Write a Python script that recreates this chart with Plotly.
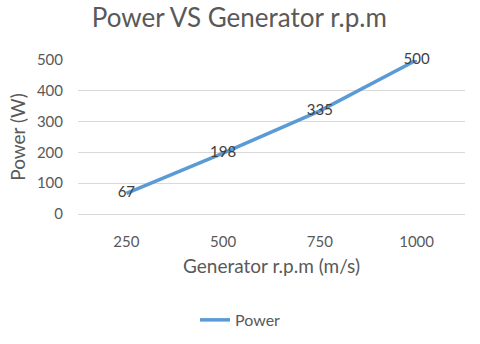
import plotly.graph_objects as go

rpm = ["250", "500", "750", "1000"]
power = [67, 198, 335, 500]

grey = "#595959"
font = "Lato, 'Open Sans', sans-serif"

fig = go.Figure()
fig.add_trace(
    go.Scatter(
        x=rpm,
        y=power,
        mode="lines+text",
        name="Power",
        text=[str(v) for v in power],
        textposition="middle center",
        textfont=dict(size=15, color="#404040", family=font),
        line=dict(color="#5B9BD5", width=3.5),
        cliponaxis=False,
    )
)

fig.update_layout(
    width=480,
    height=344,
    paper_bgcolor="white",
    plot_bgcolor="white",
    margin=dict(l=78, r=15, t=60, b=130, autoexpand=False),
    font=dict(family=font, color=grey, size=15),
    title=dict(
        text="Power VS Generator r.p.m",
        font=dict(size=26, color=grey, family=font),
        x=0.4985,
        xanchor="center",
        y=0.948,
        yanchor="middle",
    ),
    showlegend=True,
    legend=dict(
        orientation="h",
        x=0.42,
        xanchor="center",
        y=-0.688,
        yanchor="middle",
        font=dict(size=16, color=grey),
    ),
)

fig.update_xaxes(
    type="category",
    range=[-0.5, 3.5],
    automargin=False,
    showgrid=False,
    showline=True,
    linecolor="#d9d9d9",
    linewidth=1,
    ticks="",
    ticklabelstandoff=14,
    tickfont=dict(size=15, color=grey),
    title=dict(text="Generator r.p.m (m/s)", font=dict(size=19, color=grey), standoff=10),
)

fig.update_yaxes(
    range=[0, 500],
    dtick=100,
    automargin=False,
    showgrid=True,
    gridcolor="#d9d9d9",
    zeroline=False,
    showline=False,
    ticks="",
    ticklabelstandoff=14,
    tickfont=dict(size=15, color=grey),
    title=dict(text="Power (W)", font=dict(size=19, color=grey), standoff=6),
)

# drop the default 8px body margin so the figure fills the window
fig.write_html(
    "out.html",
    config={"displayModeBar": False},
    post_script="document.body.style.margin = '0';",
)
